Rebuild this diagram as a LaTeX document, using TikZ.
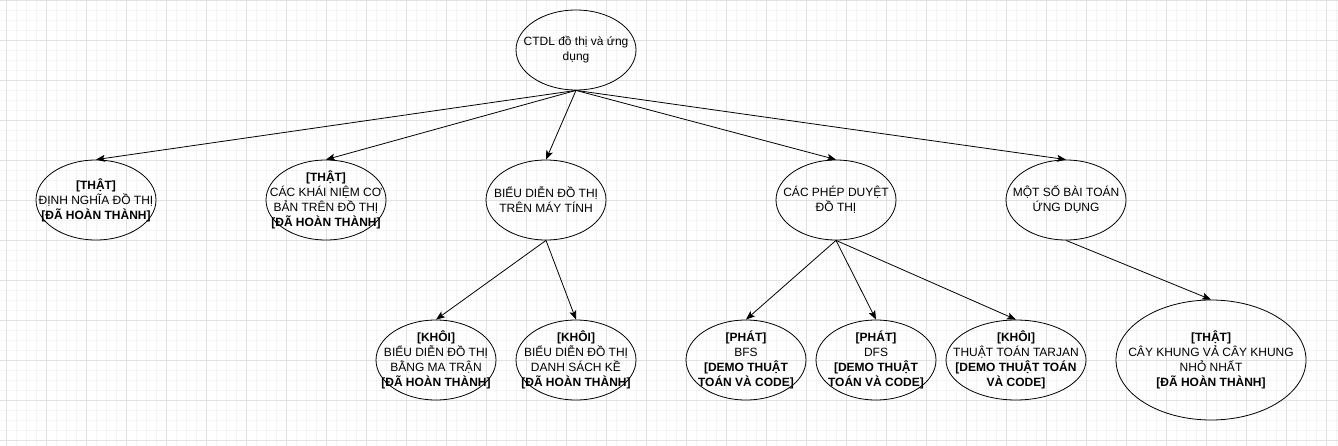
\documentclass[tikz,border=0pt]{standalone}
\usepackage{fontspec}
\setmainfont{Liberation Sans}
\usetikzlibrary{shapes.geometric,arrows.meta}
\definecolor{gridmajor}{HTML}{E2E2E2}
\definecolor{gridminor}{HTML}{F4F4F4}
\tikzset{
  topic/.style={draw, ellipse, line width=0.8pt, minimum width=120pt, minimum height=80pt,
    inner sep=-25pt, align=center, font=\fontsize{12}{15}\selectfont},
  link/.style={-{Stealth[length=9pt,width=7pt,inset=2pt]}, line width=0.8pt},
}

\begin{document}
\begin{tikzpicture}[x=1pt,y=-1pt]
        \useasboundingbox (0,0) rectangle (1338,446);
        % grid
        \foreach \x in {6,16,...,1336} \draw[gridminor] (\x,0) -- (\x,446);
        \foreach \y in {10,20,...,440} \draw[gridminor] (0,\y) -- (1338,\y);
        \foreach \x in {6,46,...,1326} \draw[gridmajor] (\x,0) -- (\x,446);
        \foreach \y in {0,40,...,440} \draw[gridmajor] (0,\y) -- (1338,\y);
        % top
        \node[topic](root) at (576,50) {CTDL đồ thị và ứng\\dụng};
        % level 1
        \node[topic](dinhnghia) at (96,200) {\textbf{[THẬT]}\\ĐỊNH NGHĨA ĐỒ THỊ\\\textbf{[ĐÃ HOÀN THÀNH]}};
        \node[topic](khainiem) at (326,200) {\textbf{[THẬT]}\\CÁC KHÁI NIỆM CƠ\\BẢN TRÊN ĐỒ THỊ\\\textbf{[ĐÃ HOÀN THÀNH]}};
        \node[topic](bieudien) at (546,200) {BIỂU DIỄN ĐỒ THỊ\\TRÊN MÁY TÍNH};
        \node[topic](duyet) at (836,200) {CÁC PHÉP DUYỆT\\ĐỒ THỊ};
        \node[topic](ungdung) at (1066,200) {MỘT SỐ BÀI TOÁN\\ỨNG DỤNG};
        % level 2
        \node[topic](matran) at (436,360) {\textbf{[KHÔI]}\\BIỂU DIỄN ĐỒ THỊ\\BẰNG MA TRẬN\\\textbf{[ĐÃ HOÀN THÀNH]}};
        \node[topic](danhsach) at (576,360) {\textbf{[KHÔI]}\\BIỂU DIỄN ĐỒ THỊ\\DANH SÁCH KỀ\\\textbf{[ĐÃ HOÀN THÀNH]}};
        \node[topic](bfs) at (746,360) {\textbf{[PHÁT]}\\BFS\\\textbf{[DEMO THUẬT}\\\textbf{TOÁN VÀ CODE]}};
        \node[topic](dfs) at (876,360) {\textbf{[PHÁT]}\\DFS\\\textbf{[DEMO THUẬT}\\\textbf{TOÁN VÀ CODE]}};
        \node[topic, minimum width=140pt](tarjan) at (1016,360) {\textbf{[KHÔI]}\\THUẬT TOÁN TARJAN\\\textbf{[DEMO THUẬT TOÁN}\\\textbf{VÀ CODE]}};
        \node[topic, minimum width=190pt, minimum height=120pt](caykhung) at (1211,360) {\textbf{[THẬT]}\\CÂY KHUNG VẢ CÂY KHUNG\\NHỎ NHẤT\\\textbf{[ĐÃ HOÀN THÀNH]}};
        % edges
        \draw[link](root.south)--(dinhnghia.north);
        \draw[link](root.south)--(khainiem.north);
        \draw[link](root.south)--(bieudien.north);
        \draw[link](root.south)--(duyet.north);
        \draw[link](root.south)--(ungdung.north);
        \draw[link](bieudien.south)--(matran.north);
        \draw[link](bieudien.south)--(danhsach.north);
        \draw[link](duyet.south)--(bfs.north);
        \draw[link](duyet.south)--(dfs.north);
        \draw[link](duyet.south)--(tarjan.north);
        \draw[link](ungdung.south)--(caykhung.north);
        \end{tikzpicture}
\end{document}
